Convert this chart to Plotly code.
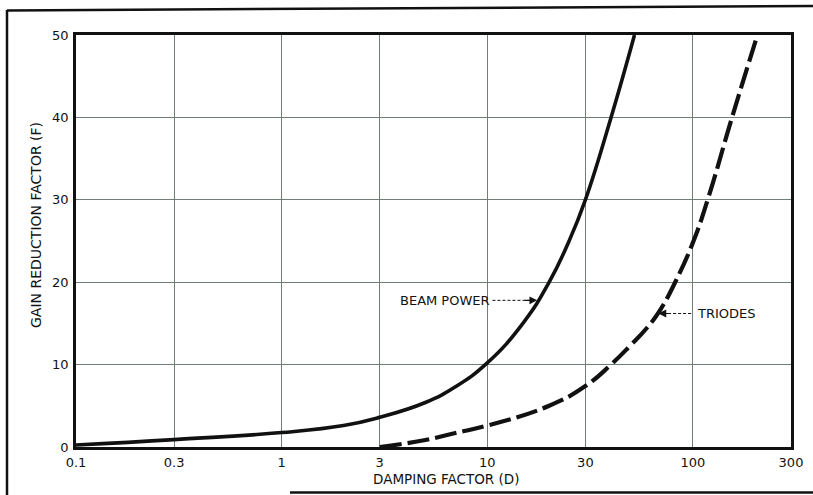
import numpy as np
import plotly.graph_objects as go

# ---- data ----
beam_D = [0.1, 0.3, 1, 2, 3, 5, 7, 10, 15, 20, 25, 30, 40, 52]
beam_F = [0.25, 0.9, 1.75, 2.6, 3.6, 5.4, 7.3, 10.2, 15.1, 20, 25, 30, 40, 50]

triode_D = [3, 5, 7, 10, 20, 30, 40, 50, 60, 70, 82, 100, 118, 155, 206]
triode_F = [0, 0.85, 1.7, 2.6, 5.0, 7.4, 10, 12.4, 14.5, 16.8, 20, 24.8, 30, 40, 50]

x_ticks = [0.1, 0.3, 1, 3, 10, 30, 100, 300]
x_tick_labels = ["0.1", "0.3", "1", "3", "10", "30", "100", "300"]
y_ticks = [0, 10, 20, 30, 40, 50]

# annotation anchor points (data units)
beam_label = dict(text="BEAM POWER", D=6.2, F=17.8)
beam_ptr_D = [10.6, 16.0]
beam_tip_D = 17.5
triode_label = dict(text="TRIODES", D=102.5, F=16.2)
triode_ptr_D = [98.0, 72.0]
triode_tip_D = 68.0

W, H = 813, 495
ML, MR, MT, MB = 76, 22, 35, 48
PW, PH = W - ML - MR, H - MT - MB

def px(xp):
    return (xp - ML) / PW

def py(yp):
    return (H - MB - yp) / PH

FONT = "DejaVu Sans"
INK = "#111111"

fig = go.Figure()
fig.add_trace(go.Scatter(
    x=beam_D, y=beam_F, mode="lines",
    line=dict(color=INK, width=3.6, shape="spline", smoothing=1.3),
    showlegend=False, hoverinfo="skip"))
fig.add_trace(go.Scatter(
    x=triode_D, y=triode_F, mode="lines",
    line=dict(color=INK, width=4.2, shape="spline", smoothing=1.3, dash="22px,6px"),
    showlegend=False, hoverinfo="skip"))

# pointer lines (dashed)
fig.add_trace(go.Scatter(
    x=beam_ptr_D, y=[beam_label["F"]] * 2, mode="lines",
    line=dict(color=INK, width=1, dash="3px,2px"), showlegend=False, hoverinfo="skip"))
fig.add_trace(go.Scatter(
    x=triode_ptr_D, y=[triode_label["F"]] * 2, mode="lines",
    line=dict(color=INK, width=1, dash="3px,2px"), showlegend=False, hoverinfo="skip"))

annotations = [
    dict(x=np.log10(beam_label["D"]), y=beam_label["F"], text=beam_label["text"],
         showarrow=False, xanchor="center", yanchor="middle",
         font=dict(family=FONT, size=13, color=INK)),
    dict(x=np.log10(beam_tip_D), y=beam_label["F"], ax=-14, ay=0, text="",
         showarrow=True, arrowhead=2, arrowsize=1.3, arrowwidth=1.2, arrowcolor=INK),
    dict(x=np.log10(triode_label["D"]), y=triode_label["F"], text=triode_label["text"],
         showarrow=False, xanchor="left", yanchor="middle",
         font=dict(family=FONT, size=13, color=INK)),
    dict(x=np.log10(triode_tip_D), y=triode_label["F"], ax=14, ay=0, text="",
         showarrow=True, arrowhead=2, arrowsize=1.3, arrowwidth=1.2, arrowcolor=INK),
    # axis titles
    dict(xref="paper", yref="paper", x=px(446), y=py(479), text="DAMPING FACTOR (D)",
         showarrow=False, xanchor="center", yanchor="middle",
         font=dict(family=FONT, size=13.5, color=INK)),
    dict(xref="paper", yref="paper", x=px(36), y=py(225), text="GAIN REDUCTION FACTOR (F)",
         showarrow=False, xanchor="center", yanchor="middle", textangle=-90,
         font=dict(family=FONT, size=14, color=INK)),
]

shapes = [
    # outer frame
    dict(type="line", xref="paper", yref="paper", x0=px(7), y0=py(495), x1=px(7), y1=py(10),
         line=dict(color=INK, width=2.5)),
    dict(type="line", xref="paper", yref="paper", x0=px(7), y0=py(10.5), x1=px(813), y1=py(6),
         line=dict(color=INK, width=2.5)),
    dict(type="line", xref="paper", yref="paper", x0=px(290), y0=py(492.5), x1=px(813), y1=py(492.5),
         line=dict(color=INK, width=2.5)),
]

fig.update_layout(
    width=W, height=H,
    margin=dict(l=ML, r=MR, t=MT, b=MB, autoexpand=False),
    paper_bgcolor="white", plot_bgcolor="white",
    font=dict(family=FONT, size=13, color=INK),
    annotations=annotations, shapes=shapes,
    showlegend=False,
)
fig.update_xaxes(
    type="log", range=[np.log10(0.1), np.log10(300)],
    tickvals=x_ticks, ticktext=x_tick_labels,
    showgrid=True, gridcolor="#6f7f74", gridwidth=1,
    showline=True, linecolor=INK, linewidth=2.5, mirror=True,
    ticks="", zeroline=False, tickfont=dict(family=FONT, size=13, color=INK),
    ticklabelstandoff=2, automargin=False,
)
fig.update_yaxes(
    range=[0, 50], tickvals=y_ticks,
    showgrid=True, gridcolor="#6f7f74", gridwidth=1,
    showline=True, linecolor=INK, linewidth=2.5, mirror=True,
    ticks="", zeroline=False, tickfont=dict(family=FONT, size=13, color=INK),
    ticklabelstandoff=2, automargin=False,
)

fig.write_html("out.html", config={"displayModeBar": False},
               post_script="document.body.style.margin='0';document.body.style.padding='0';")
